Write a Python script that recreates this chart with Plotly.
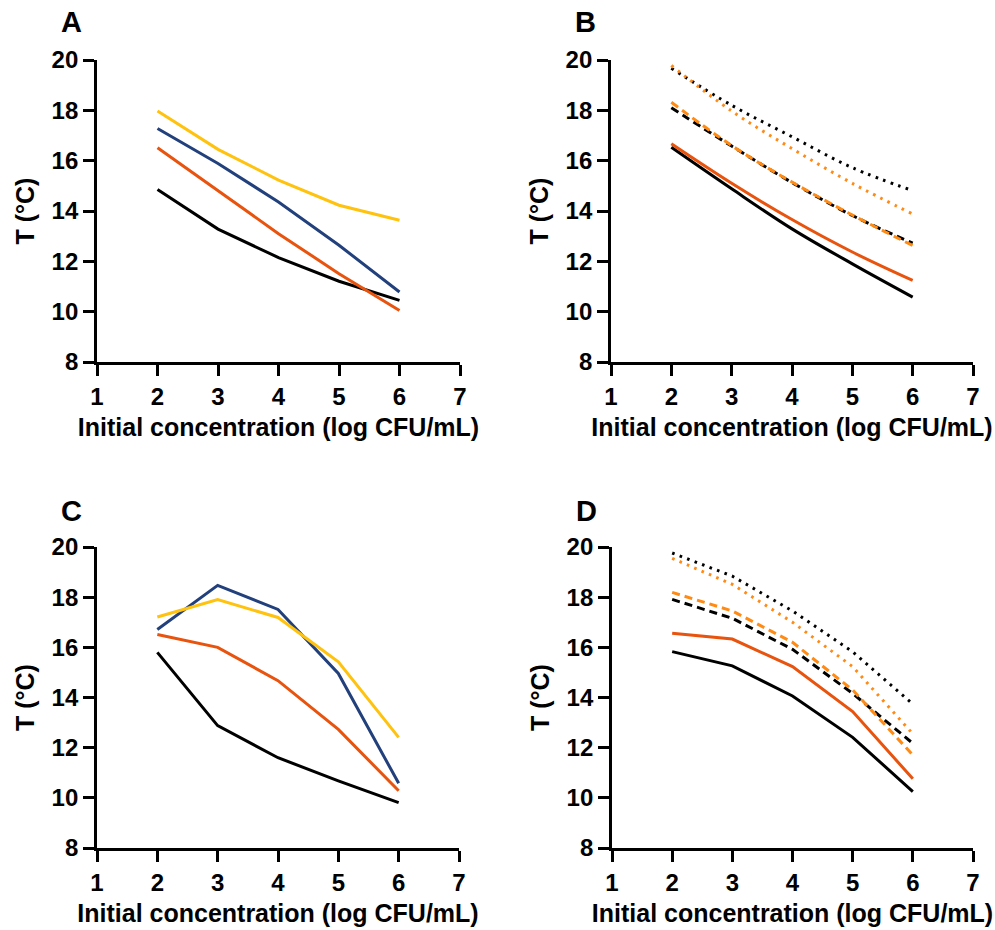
import plotly.graph_objects as go

# ---- data ----
conc = [2, 3, 4, 5, 6]
x_ticks = [1, 2, 3, 4, 5, 6, 7]
y_ticks = [8, 10, 12, 14, 16, 18, 20]
panel_labels = ["A", "B", "C", "D"]
x_title = "Initial concentration (log CFU/mL)"
y_title = "T (°C)"

# Panel A
a_yellow = [17.97, 16.45, 15.23, 14.23, 13.63]
a_blue = [17.28, 15.89, 14.36, 12.64, 10.78]
a_orange = [16.51, 14.80, 13.10, 11.51, 10.05]
a_black = [14.85, 13.28, 12.15, 11.21, 10.45]

# Panel B
b_black_dot = [19.67, 18.20, 16.95, 15.72, 14.81]
b_orange_dot = [19.78, 17.97, 16.48, 15.10, 13.88]
b_black_dash = [18.10, 16.58, 15.13, 13.82, 12.72]
b_orange_dash = [18.32, 16.60, 15.15, 13.84, 12.63]
b_orange_solid = [16.67, 15.10, 13.66, 12.37, 11.24]
b_black_solid = [16.53, 14.88, 13.29, 11.90, 10.58]

# Panel C
c_blue = [16.71, 18.47, 17.51, 14.96, 10.58]
c_yellow = [17.21, 17.90, 17.19, 15.42, 12.41]
c_orange = [16.51, 16.00, 14.67, 12.73, 10.28]
c_black = [15.80, 12.88, 11.60, 10.68, 9.81]

# Panel D
d_black_dot = [19.76, 18.84, 17.45, 15.82, 13.74]
d_orange_dot = [19.55, 18.51, 17.00, 15.23, 12.55]
d_orange_dash = [18.19, 17.45, 16.20, 14.30, 11.71]
d_black_dash = [17.91, 17.16, 15.92, 14.16, 12.17]
d_orange_solid = [16.56, 16.33, 15.23, 13.44, 10.76]
d_black_solid = [15.83, 15.26, 14.06, 12.41, 10.25]

# ---- styles ----
YELLOW = "#FFC20E"
BLUE = "#22407C"
RED_ORANGE = "#E8530E"
ORANGE = "#FF8A14"
BLACK = "#000000"
LW = 3
DOT = "2.6px,5.4px"
DASH = "8px,5px"
FONT = "Liberation Sans, Arial, Helvetica, sans-serif"

W, H = 995, 930

def fx(px):
    return px / W

def fy(py):
    return 1 - py / H

panels = [
    dict(x0=97, x1=460, y0=60, y1=362),
    dict(x0=611, x1=973, y0=60, y1=362),
    dict(x0=97, x1=459, y0=547, y1=848),
    dict(x0=612, x1=973, y0=547, y1=848),
]

fig = go.Figure()

def add(i, y, color, dash="solid", shape="linear"):
    sfx = "" if i == 0 else str(i + 1)
    fig.add_trace(go.Scatter(
        x=conc, y=y, mode="lines",
        line=dict(color=color, width=LW, dash=dash, shape=shape),
        xaxis="x" + sfx, yaxis="y" + sfx, showlegend=False,
        hoverinfo="skip"))

# A
add(0, a_black, BLACK)
add(0, a_orange, RED_ORANGE)
add(0, a_blue, BLUE)
add(0, a_yellow, YELLOW)
# B
add(1, b_black_dot, BLACK, DOT, "spline")
add(1, b_orange_dot, ORANGE, DOT, "spline")
add(1, b_black_dash, BLACK, DASH, "spline")
add(1, b_orange_dash, ORANGE, DASH, "spline")
add(1, b_black_solid, BLACK, "solid", "spline")
add(1, b_orange_solid, RED_ORANGE, "solid", "spline")
# C
add(2, c_black, BLACK)
add(2, c_orange, RED_ORANGE)
add(2, c_blue, BLUE)
add(2, c_yellow, YELLOW)
# D
add(3, d_black_dot, BLACK, DOT)
add(3, d_orange_dot, ORANGE, DOT)
add(3, d_black_dash, BLACK, DASH)
add(3, d_orange_dash, ORANGE, DASH)
add(3, d_black_solid, BLACK)
add(3, d_orange_solid, RED_ORANGE)

axis_font = dict(family=FONT, size=24, color="black", weight="bold")
title_font = dict(family=FONT, size=25, color="black", weight="bold")

layout = dict(
    width=W, height=H,
    margin=dict(l=0, r=0, t=0, b=0),
    paper_bgcolor="white", plot_bgcolor="white",
    font=dict(family=FONT, color="black"),
    showlegend=False,
)

annotations = []
for i, p in enumerate(panels):
    sfx = "" if i == 0 else str(i + 1)
    layout["xaxis" + sfx] = dict(
        domain=[fx(p["x0"]), fx(p["x1"])],
        anchor="y" + sfx,
        range=[1, 7], tickvals=x_ticks, ticktext=[str(v) for v in x_ticks],
        showline=True, linecolor="black", linewidth=2.8,
        ticks="outside", ticklen=11, tickwidth=2.8, tickcolor="black",
        showgrid=False, zeroline=False, tickfont=axis_font,
        title=dict(text=x_title, font=title_font, standoff=10),
        automargin=False,
    )
    layout["yaxis" + sfx] = dict(
        domain=[fy(p["y1"]), fy(p["y0"])],
        anchor="x" + sfx,
        range=[8, 20], tickvals=y_ticks, ticktext=[str(v) for v in y_ticks],
        showline=True, linecolor="black", linewidth=2.8,
        ticks="outside", ticklen=11, tickwidth=2.8, tickcolor="black",
        showgrid=False, zeroline=False, tickfont=axis_font,
        title=dict(text=y_title, font=title_font, standoff=10),
        automargin=False,
    )

label_pos = [(71.5, 22.5), (585, 22.5), (71, 511), (586.5, 511)]
for lab, (lx, ly) in zip(panel_labels, label_pos):
    annotations.append(dict(
        text=lab, x=fx(lx), y=fy(ly), xref="paper", yref="paper",
        xanchor="center", yanchor="middle", showarrow=False,
        font=dict(family=FONT, size=29, color="black", weight="bold")))

layout["annotations"] = annotations
fig.update_layout(**layout)
fig.write_html(
    "out.html",
    config={"displayModeBar": False},
    post_script="document.body.style.margin='0';document.body.style.overflow='hidden';",
)
